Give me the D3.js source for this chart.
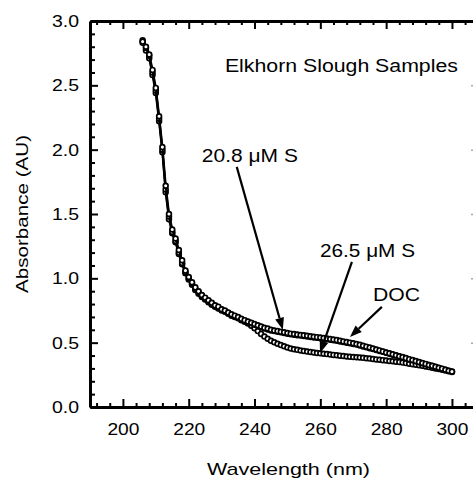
<!DOCTYPE html>
<html><head><meta charset="utf-8">
<script src="https://cdn.jsdelivr.net/npm/d3@7"></script>
<style>
body{margin:0;background:#fff}
svg{display:block}
text{font-family:"Liberation Sans",Arial,Helvetica,sans-serif;fill:#000}
</style>
</head><body>
<svg id="chart" width="473" height="478"></svg>
<script>
// ---- data ----
const wavelengths = d3.range(206, 301); // nm, 1 nm steps
const docValues = [2.84,2.80,2.74,2.62,2.48,2.26,2.02,1.72,1.50,1.38,
  1.31,1.22,1.14,1.06,1.01,0.97,0.93,0.90,0.87,0.85,
  0.83,0.81,0.79,0.78,0.76,0.75,0.735,0.72,0.71,0.70,
  0.685,0.675,0.665,0.655,0.645,0.635,0.625,0.615,0.61,0.60,
  0.595,0.59,0.585,0.58,0.575,0.57,0.567,0.564,0.56,0.557,
  0.554,0.55,0.546,0.543,0.54,0.536,0.532,0.528,0.524,0.52,
  0.515,0.51,0.505,0.50,0.495,0.49,0.483,0.476,0.469,0.462,
  0.455,0.447,0.44,0.432,0.424,0.417,0.41,0.402,0.395,0.388,
  0.38,0.372,0.365,0.357,0.35,0.342,0.335,0.327,0.32,0.313,
  0.305,0.298,0.29,0.282,0.275];
const s208Values = [2.85,2.79,2.73,2.60,2.46,2.24,2.00,1.69,1.48,1.36,
  1.29,1.20,1.12,1.05,1.00,0.96,0.92,0.89,0.86,0.84,
  0.82,0.80,0.785,0.77,0.755,0.745,0.73,0.715,0.705,0.695,
  0.68,0.67,0.66,0.65,0.64,0.63,0.62,0.61,0.603,0.595,
  0.59,0.585,0.58,0.575,0.57,0.566,0.562,0.558,0.555,0.552,
  0.548,0.545,0.541,0.538,0.534,0.53,0.526,0.522,0.518,0.514,
  0.51,0.505,0.50,0.495,0.49,0.485,0.478,0.471,0.464,0.457,
  0.45,0.443,0.436,0.429,0.421,0.414,0.407,0.40,0.392,0.385,
  0.378,0.37,0.363,0.355,0.348,0.34,0.333,0.326,0.318,0.311,
  0.304,0.296,0.289,0.281,0.274];
const s265Values = [2.83,2.77,2.71,2.58,2.44,2.22,1.98,1.67,1.46,1.35,
  1.28,1.19,1.11,1.04,0.99,0.95,0.91,0.88,0.855,0.835,
  0.815,0.795,0.78,0.765,0.75,0.74,0.725,0.71,0.70,0.69,
  0.675,0.662,0.648,0.632,0.612,0.59,0.568,0.547,0.53,0.515,
  0.503,0.492,0.482,0.472,0.463,0.455,0.449,0.444,0.439,0.435,
  0.431,0.427,0.423,0.42,0.417,0.414,0.411,0.408,0.405,0.402,
  0.399,0.396,0.393,0.391,0.389,0.387,0.385,0.382,0.379,0.376,
  0.373,0.37,0.367,0.364,0.361,0.358,0.355,0.352,0.349,0.345,
  0.341,0.337,0.333,0.329,0.325,0.32,0.315,0.31,0.305,0.30,
  0.295,0.29,0.284,0.278,0.272];
const xTickValues = [200,220,240,260,280,300];
const xMinorValues = [192,196,204,208,212,216,224,228,232,236,244,248,252,256,264,268,272,276,284,288,292,296,304];
const yTickValues = [0,0.5,1.0,1.5,2.0,2.5,3.0];
const yMinorValues = [0.1,0.2,0.3,0.4,0.6,0.7,0.8,0.9,1.1,1.2,1.3,1.4,1.6,1.7,1.8,1.9,2.1,2.2,2.3,2.4,2.6,2.7,2.8,2.9];
const title = "Elkhorn Slough Samples";
const xLabel = "Wavelength (nm)";
const yLabel = "Absorbance (AU)";
// annotations in data coordinates: label anchor and arrow tail/tip
const annotations = [
  {text:"20.8 μM S", lx:224.0, ly:1.905, len:96, from:[234.6,1.866], to:[248.6,0.60]},
  {text:"26.5 μM S", lx:259.9, ly:1.166, len:95, from:[269.6,1.128], to:[259.9,0.42]},
  {text:"DOC",       lx:276.0, ly:0.824, len:47, from:[278.7,0.778], to:[269.0,0.544]}
];

// ---- layout ----
const svg = d3.select("#chart");
const x = d3.scaleLinear().domain([190, 306.7]).range([90, 474]);
const y = d3.scaleLinear().domain([0, 3]).range([407, 21]);
const fmt = d3.format(".1f");

function styleAxis(g, w){
  g.select(".domain").attr("stroke","#000").attr("stroke-width",w);
  g.selectAll(".tick line").attr("stroke","#000").attr("stroke-width",2);
}

// bottom axis
const gb = svg.append("g").attr("transform",`translate(0,${y(0)})`)
  .call(d3.axisBottom(x).tickValues(xTickValues).tickSize(-8).tickSizeOuter(0).tickPadding(16).tickFormat(d3.format("d")));
styleAxis(gb,3);
gb.selectAll("text").attr("font-size",17).attr("fill","#000").attr("font-family",null)
  .attr("textLength",32).attr("lengthAdjust","spacingAndGlyphs").attr("x",-16).attr("text-anchor","start");
svg.append("g").attr("transform",`translate(0,${y(0)})`)
  .call(d3.axisBottom(x).tickValues(xMinorValues).tickSize(-4).tickSizeOuter(0).tickFormat(""))
  .call(g=>{g.select(".domain").remove(); g.selectAll("line").attr("stroke","#000").attr("stroke-width",2);});

// top axis
const gt = svg.append("g").attr("transform",`translate(0,${y(3)})`)
  .call(d3.axisTop(x).tickValues(xTickValues).tickSize(-8).tickSizeOuter(0).tickFormat(""));
styleAxis(gt,3);
svg.append("g").attr("transform",`translate(0,${y(3)})`)
  .call(d3.axisTop(x).tickValues(xMinorValues).tickSize(-4).tickSizeOuter(0).tickFormat(""))
  .call(g=>{g.select(".domain").remove(); g.selectAll("line").attr("stroke","#000").attr("stroke-width",2);});

// left axis
const gl = svg.append("g").attr("transform",`translate(${x(190)},0)`)
  .call(d3.axisLeft(y).tickValues(yTickValues).tickSize(-8).tickSizeOuter(0).tickPadding(11).tickFormat(fmt));
styleAxis(gl,3);
gl.selectAll("text").attr("font-size",17).attr("fill","#000").attr("font-family",null)
  .attr("textLength",27).attr("lengthAdjust","spacingAndGlyphs").attr("x",-38).attr("text-anchor","start");
svg.append("g").attr("transform",`translate(${x(190)},0)`)
  .call(d3.axisLeft(y).tickValues(yMinorValues).tickSize(-5).tickSizeOuter(0).tickFormat(""))
  .call(g=>{g.select(".domain").remove(); g.selectAll("line").attr("stroke","#000").attr("stroke-width",2);});

// right axis (mostly outside the picture; only faint tick stubs show)
svg.append("g").attr("transform",`translate(${x(306.7)},0)`)
  .call(d3.axisRight(y).tickValues(yTickValues.slice(1,6)).tickSize(-3).tickSizeOuter(0).tickFormat(""))
  .call(g=>{g.select(".domain").remove(); g.selectAll("line").attr("stroke","#aaa").attr("stroke-width",1.5);});

// axis titles
svg.append("text").attr("x",207).attr("y",475).attr("font-size",17)
  .attr("textLength",163).attr("lengthAdjust","spacingAndGlyphs").text(xLabel);
svg.append("text").attr("transform","translate(28,293) rotate(-90)").attr("font-size",17)
  .attr("textLength",158).attr("lengthAdjust","spacingAndGlyphs").text(yLabel);
svg.append("text").attr("x",x(231.0)).attr("y",y(2.605)).attr("font-size",17.5)
  .attr("textLength",233).attr("lengthAdjust","spacingAndGlyphs").text(title);

// series
const seriesList = [
  {name:"26.5 μM S", values:s265Values},
  {name:"20.8 μM S", values:s208Values},
  {name:"DOC", values:docValues}
];
const line = d3.line().x(d=>x(d[0])).y(d=>y(d[1]));
seriesList.forEach(s=>{
  const pts = wavelengths.map((w,i)=>[w,s.values[i]]);
  const g = svg.append("g");
  g.append("path").datum(pts).attr("d",line).attr("fill","none").attr("stroke","#000").attr("stroke-width",2.2);
  g.selectAll("circle").data(pts).join("circle")
    .attr("cx",d=>x(d[0])).attr("cy",d=>y(d[1])).attr("r",2.4)
    .attr("fill","#fff").attr("stroke","#000").attr("stroke-width",1.7);
});

// annotations
annotations.forEach(a=>{
  svg.append("text").attr("x",x(a.lx)).attr("y",y(a.ly)).attr("font-size",17.5)
    .attr("textLength",a.len).attr("lengthAdjust","spacingAndGlyphs").text(a.text);
  const x1=x(a.from[0]), y1=y(a.from[1]), x2=x(a.to[0]), y2=y(a.to[1]);
  const dx=x2-x1, dy=y2-y1, L=Math.hypot(dx,dy), ux=dx/L, uy=dy/L;
  const hl=12, hw=4.5;
  const bx=x2-ux*hl, by=y2-uy*hl;
  svg.append("line").attr("x1",x1).attr("y1",y1).attr("x2",bx).attr("y2",by)
    .attr("stroke","#000").attr("stroke-width",2.2);
  svg.append("polygon").attr("points",[[x2,y2],[bx-uy*hw,by+ux*hw],[bx+uy*hw,by-ux*hw]].map(p=>p.join(",")).join(" "))
    .attr("fill","#000");
});
</script>
</body></html>
